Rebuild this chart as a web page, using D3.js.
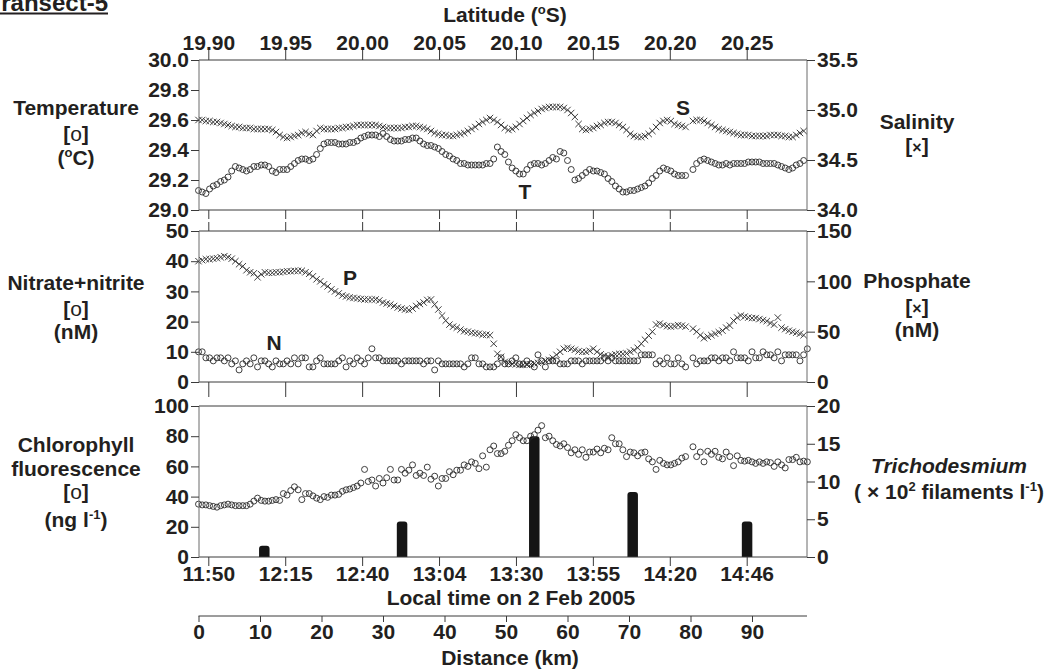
<!DOCTYPE html>
<html><head><meta charset="utf-8">
<script src="https://cdn.jsdelivr.net/npm/d3@7"></script>
<style>
body{margin:0;background:#fff;}
svg text{font-family:"Liberation Sans",Arial,Helvetica,sans-serif;font-weight:bold;fill:#231f20;font-size:21px;}
.tick line{stroke:#3a3a3a;stroke-width:1;}
</style></head><body>
<svg id="c" width="1049" height="672"></svg>
<script>
// ---------------- DATA ----------------
const kmStep = 0.6; // along-track spacing of samples (km)
const temperature = [29.13,29.12,29.11,29.14,29.16,29.17,29.19,29.20,29.22,29.26,
 29.29,29.28,29.27,29.26,29.27,29.29,29.29,29.30,29.30,29.29,
 29.26,29.25,29.27,29.27,29.27,29.29,29.31,29.33,29.34,29.34,
 29.33,29.34,29.37,29.41,29.44,29.45,29.45,29.45,29.44,29.44,
 29.44,29.45,29.45,29.46,29.48,29.49,29.50,29.50,29.50,29.49,
 29.51,29.49,29.47,29.46,29.46,29.46,29.47,29.47,29.48,29.48,
 29.46,29.44,29.43,29.43,29.42,29.41,29.39,29.37,29.36,29.34,
 29.33,29.31,29.31,29.30,29.30,29.30,29.30,29.30,29.31,29.31,
 29.34,29.42,29.39,29.37,29.32,29.28,29.26,29.24,29.24,29.27,
 29.30,29.31,29.31,29.30,29.31,29.33,29.35,29.34,29.39,29.38,
 29.33,29.27,29.20,29.21,29.23,29.25,29.27,29.26,29.26,29.25,
 29.24,29.21,29.19,29.16,29.14,29.12,29.12,29.13,29.13,29.14,
 29.15,29.16,29.18,29.21,29.23,29.26,29.28,29.27,29.26,29.24,
 29.23,29.23,29.23,null,29.27,29.31,29.33,29.34,29.33,29.32,
 29.31,29.30,29.30,29.31,29.30,29.31,29.31,29.31,29.31,29.32,
 29.32,29.32,29.32,29.31,29.31,29.31,29.31,29.30,29.29,29.28,
 29.27,29.28,29.30,29.31,29.33];
const salinity = [34.90,34.90,34.89,34.89,34.88,34.88,34.87,34.86,34.85,34.84,
 34.83,34.83,34.82,34.82,34.82,34.81,34.81,34.81,34.81,34.81,
 34.80,34.78,34.75,34.73,34.72,34.73,34.74,34.75,34.77,34.78,
 34.76,34.75,34.79,34.82,34.81,34.81,34.81,34.81,34.82,34.82,
 34.83,34.83,34.84,34.85,34.85,34.85,34.85,34.85,34.85,34.84,
 34.83,34.82,34.82,34.82,34.82,34.82,34.83,34.83,34.84,34.84,
 34.83,34.82,34.81,34.79,34.77,34.76,34.75,34.75,34.74,34.74,
 34.75,34.76,34.77,34.79,34.81,34.83,34.86,34.88,34.90,34.92,
 34.90,34.88,34.85,34.82,34.80,34.81,34.83,34.86,34.89,34.92,
 34.95,34.97,34.99,35.01,35.02,35.03,35.03,35.03,35.03,35.02,
 35.00,34.97,34.93,34.86,34.81,34.80,34.81,34.82,34.84,34.85,
 34.87,34.88,34.88,34.87,34.85,34.83,34.80,34.76,34.74,34.73,
 34.73,34.74,34.76,34.79,34.83,34.87,34.89,34.90,34.89,34.86,
 34.85,34.84,34.83,null,34.89,34.90,34.90,34.89,34.87,34.85,
 34.83,34.81,34.80,34.79,34.78,34.77,34.76,34.75,34.75,34.75,
 34.74,34.74,34.74,34.74,34.74,34.75,34.75,34.75,34.74,34.74,
 34.73,34.73,34.75,34.77,34.79];
const nitrate = [10,10,8,8,7,8,8,7,8,6,
 7,4,6,7,6,8,5,7,7,6,
 5,7,6,6,7,6,8,6,8,8,
 5,5,7,8,6,6,6,6,7,8,
 5,7,6,8,7,6,8,11,8,8,
 7,7,7,7,7,6,7,7,7,7,
 7,6,7,7,4,7,6,6,6,6,
 6,6,5,6,8,8,6,6,5,5,
 5,6,8,6,6,7,8,6,6,7,
 6,5,9,7,5,7,7,7,6,6,
 6,7,7,7,6,7,7,7,7,7,
 8,7,8,7,7,7,7,7,7,7,
 9,9,9,9,6,7,6,8,6,6,
 8,6,5,null,8,6,7,7,7,8,
 8,7,8,8,7,10,8,8,8,7,
 10,8,8,10,9,9,8,10,7,9,
 9,9,9,7,9,11];
const phosphate = [120,121,122,122,122.5,123,124,125,124,122.5,
 120,117,115,111,109,108,104,107,109,108.5,
 108.5,109,109,109.5,110,110,110.5,110.5,110.5,109,
 107.5,105,102,100,97,95,92,90,88,86,
 85,84,83.5,83,82.5,82,82,82,82,81,
 79,78,77,75.5,74,73,72,71.5,73,75.5,
 77.5,79,81.5,82,77,72,66,61,57,55,
 54,52,50.5,50,49,48.5,48,47,47,46.5,
 38,28,25,20,18.5,18,17.5,17,17,17,
 17.5,18.5,19,20,21,22,24,27,30,33,
 34,33,32,30.5,30,30,31,33,30,27.5,
 26,25.5,26.5,27.5,28,28,28.5,30,31.5,34,
 38,42,46,50,57,58,56.5,55.5,55,55.5,
 56.5,56,55,null,53,50,46.5,43.5,45,46.5,
 48,49.5,51,54,56,61,64,66,65,64,
 63.5,63.5,62.5,61.5,60.5,58.5,57,64,54,52.5,
 51,50,49,48,46.5];
const chlorophyll = [35,34.5,34.5,34,33.5,33,34,34.5,35,34.5,
 34,34,34,34,35,37,39,37.5,37,37,
 37.5,38,37.5,42,41,44,46.5,44.5,38,42,
 42,40.5,39,38,40,39.5,41,41,41.5,43.5,
 44.5,45,46,47,49,58,50,51,47,52,
 49,52.5,58,51,51,58,55.5,57.5,61,54,
 55.5,54,59.5,51.5,53.5,47,52,52,56.5,54.5,
 57.5,57.5,61,60,63,62,58.5,67,59.5,71,
 73.5,68.5,68.5,70,74,77,81,79,77,77,
 80,81,84,87,79,80,77,74.5,73.5,75,
 72.5,69,71,68,71,66,69.5,69.5,71.5,69,
 72,71,79,75,75,71,66.5,69.5,69,67,
 69,69.5,65,63,58,64,62,61,61,62,
 63,65.5,66.5,null,73,66.5,69.5,63,70,68,
 70,66,65,69.5,66.5,60.5,67,64,63.5,64,
 63,62,63,62,63,62.5,60,63,61,59,
 64.5,64.5,66,63,63.5,63];
const trichoKm = [10.7, 33.1, 54.6, 70.6, 89.2];
const trichoValues = [1.5, 4.7, 16.0, 8.6, 4.7];
const latTicks = [19.90, 19.95, 20.00, 20.05, 20.10, 20.15, 20.20, 20.25];
const timeLabels = ["11:50","12:15","12:40","13:04","13:30","13:55","14:20","14:46"];
const distTicks = [0,10,20,30,40,50,60,70,80,90];
const tempTicks = [29.0,29.2,29.4,29.6,29.8,30.0];
const salTicks = [34.0,34.5,35.0,35.5];
const nitTicks = [0,10,20,30,40,50];
const phosTicks = [0,50,100,150];
const chlTicks = [0,20,40,60,80,100];
const trichoTicks = [0,5,10,15,20];

// ---------------- LAYOUT ----------------
const svg = d3.select("#c");
const X0 = 199, X1 = 807;
const x = d3.scaleLinear().domain([0, 90]).range([198.5, 752]);
const xLat = d3.scaleLinear().domain([19.90, 20.25]).range([208.3, 746.7]);
const P1 = {t:60, b:210}, P2 = {t:231, b:382}, P3 = {t:406, b:557};
const yT = d3.scaleLinear().domain([29, 30]).range([P1.b, P1.t]);
const yS = d3.scaleLinear().domain([34, 35.5]).range([P1.b, P1.t]);
const yN = d3.scaleLinear().domain([0, 50]).range([P2.b, P2.t]);
const yP = d3.scaleLinear().domain([0, 150]).range([P2.b, P2.t]);
const yC = d3.scaleLinear().domain([0, 100]).range([P3.b, P3.t]);
const yR = d3.scaleLinear().domain([0, 20]).range([P3.b, P3.t]);

const pts = arr => arr.map((v,i)=>({km:i*kmStep, v})).filter(d=>d.v!=null);
const stroke = "#2a2a2a";

function circles(arr, y){
  svg.append("g").selectAll("circle").data(pts(arr)).join("circle")
    .attr("cx", d=>x(d.km)).attr("cy", d=>y(d.v)).attr("r", 3)
    .attr("fill","none").attr("stroke",stroke).attr("stroke-width",0.9);
}
function crosses(arr, y){
  const s = 3.2;
  svg.append("g").selectAll("path").data(pts(arr)).join("path")
    .attr("d", d=>{const cx=x(d.km), cy=y(d.v);
      return `M${cx-s},${cy-s}L${cx+s},${cy+s}M${cx-s},${cy+s}L${cx+s},${cy-s}`;})
    .attr("fill","none").attr("stroke",stroke).attr("stroke-width",0.9);
}

// bars
svg.append("g").selectAll("path").data(trichoKm.map((k,i)=>({k, v:trichoValues[i]}))).join("path")
  .attr("d", d=>{const cx=x(d.k), w=10.5, r=3, top=yR(d.v), b=P3.b, l=cx-w/2, rr=cx+w/2;
    return `M${l},${b}V${top+r}Q${l},${top} ${l+r},${top}H${rr-r}Q${rr},${top} ${rr},${top+r}V${b}Z`;})
  .attr("fill","#151515");

crosses(salinity, yS);
circles(temperature, yT);
crosses(phosphate, yP);
circles(nitrate, yN);
circles(chlorophyll, yC);

// frames
[P1,P2,P3].forEach(p=>{
  const g = svg.append("g").attr("fill","none");
  g.append("line").attr("x1",X0).attr("x2",X1).attr("y1",p.t).attr("y2",p.t).attr("stroke","#3a3a3a");
  g.append("line").attr("x1",X0).attr("x2",X1).attr("y1",p.b).attr("y2",p.b).attr("stroke","#3a3a3a");
  g.append("line").attr("x1",X0).attr("x2",X0).attr("y1",p.t).attr("y2",p.b).attr("stroke","#6a6a6a");
  g.append("line").attr("x1",X1).attr("x2",X1).attr("y1",p.t).attr("y2",p.b).attr("stroke","#6a6a6a");
});

function clean(g){ g.select(".domain").remove(); g.attr("font-size",null).attr("font-family",null); }

// y axes
function leftAxis(y, ticks, fmt){
  svg.append("g").attr("transform",`translate(${X0},0)`)
    .call(d3.axisLeft(y).tickValues(ticks).tickFormat(fmt).tickSize(8).tickPadding(2).tickSizeOuter(0)).call(clean);
}
function rightAxis(y, ticks, fmt){
  svg.append("g").attr("transform",`translate(${X1},0)`)
    .call(d3.axisRight(y).tickValues(ticks).tickFormat(fmt).tickSize(8).tickPadding(2).tickSizeOuter(0)).call(clean);
}
leftAxis(yT, tempTicks, d3.format(".1f"));
rightAxis(yS, salTicks, d3.format(".1f"));
leftAxis(yN, nitTicks, d3.format("d"));
rightAxis(yP, phosTicks, d3.format("d"));
leftAxis(yC, chlTicks, d3.format("d"));
rightAxis(yR, trichoTicks, d3.format("d"));

// x ticks
svg.append("g").attr("transform",`translate(0,${P1.t})`)
  .call(d3.axisTop(xLat).tickValues(latTicks).tickFormat(d3.format(".2f")).tickSize(12).tickPadding(-2).tickSizeOuter(0)).call(clean);
svg.append("g").attr("transform",`translate(0,${P1.b})`)
  .call(d3.axisBottom(xLat).tickValues(latTicks).tickFormat("").tickSize(9).tickSizeOuter(0)).call(clean);
svg.append("g").attr("transform",`translate(0,${P2.t})`)
  .call(d3.axisTop(xLat).tickValues(latTicks).tickFormat("").tickSize(9).tickSizeOuter(0)).call(clean);
svg.append("g").attr("transform",`translate(0,${P2.b})`)
  .call(d3.axisBottom(xLat).tickValues(latTicks).tickFormat("").tickSize(15).tickSizeOuter(0)).call(clean);
svg.append("g").attr("transform",`translate(0,${P3.b})`)
  .call(d3.axisBottom(xLat).tickValues(latTicks).tickFormat((d,i)=>timeLabels[i]).tickSize(9).tickPadding(0).tickSizeOuter(0)).call(clean);

// distance axis
const dg = svg.append("g").attr("transform","translate(0,616)");
dg.call(d3.axisBottom(x).tickValues(distTicks).tickFormat(d3.format("d")).tickSize(6).tickPadding(2).tickSizeOuter(0)).call(clean);
dg.append("line").attr("x1",198.5).attr("x2",X1).attr("y1",0).attr("y2",0).attr("stroke","#3a3a3a");

// ---------------- TEXT ----------------
function label(xp, yp, parts, opts={}){
  const t = svg.append("text").attr("x",xp).attr("y",yp).attr("text-anchor",opts.anchor||"middle");
  if(opts.size) t.style("font-size",opts.size+"px");
  if(opts.italic) t.style("font-style","italic");
  let shift = 0;
  parts.forEach(p=>{
    if(typeof p === "string"){ const s=t.append("tspan").text(p); if(shift){s.attr("dy",-shift); shift=0;} return; }
    const s = t.append("tspan").text(p.t);
    if(p.size) s.style("font-size",p.size+"px");
    if(p.normal) s.style("font-weight","normal");
    if(p.sup){ s.attr("dy",shift?0:-8); shift=8; s.style("font-size",(p.size||13)+"px"); }
    else if(shift){ s.attr("dy",shift); shift=0; }
  });
  return t;
}
const back = 8;
// title
label(108, 10.7, ["Transect-5"], {anchor:"end", size:24});
svg.append("line").attr("x1",0).attr("x2",108).attr("y1",13.5).attr("y2",13.5).attr("stroke","#231f20").attr("stroke-width",2);
label(505, 22, ["Latitude (", {t:"o", sup:true}, {t:"S)"}]);

// left titles
label(76, 115, ["Temperature"]);
label(76, 141, ["[", {t:"o", normal:true}, "]"]);
label(76, 165, ["(", {t:"o", sup:true}, {t:"C)"}]);
label(76, 290, ["Nitrate+nitrite"]);
label(76, 316, ["[", {t:"o", normal:true}, "]"]);
label(76, 339, ["(nM)"]);
label(76, 452, ["Chlorophyll"]);
label(76, 476, ["fluorescence"]);
label(76, 499, ["[", {t:"o", normal:true}, "]"]);
label(76, 527, ["(ng l", {t:"-1", sup:true}, {t:")"}]);

// right titles
label(917, 129, ["Salinity"]);
label(917, 153, ["[", {t:"×", size:16}, "]"]);
label(917, 288, ["Phosphate"]);
label(917, 314, ["[", {t:"×", size:16}, "]"]);
label(917, 337, ["(nM)"]);
label(949, 473, ["Trichodesmium"], {italic:true});
label(949, 499, ["( × 10", {t:"2", sup:true}, {t:" filaments l"}, {t:"-1", sup:true}, {t:")"}]);

// in-plot series labels
label(683, 115, ["S"]);
label(525, 199, ["T"]);
label(350, 285, ["P"]);
label(274, 350, ["N"]);

// bottom titles
label(511, 605, ["Local time on 2 Feb 2005"]);
label(510, 665, ["Distance (km)"]);
</script>
</body></html>
